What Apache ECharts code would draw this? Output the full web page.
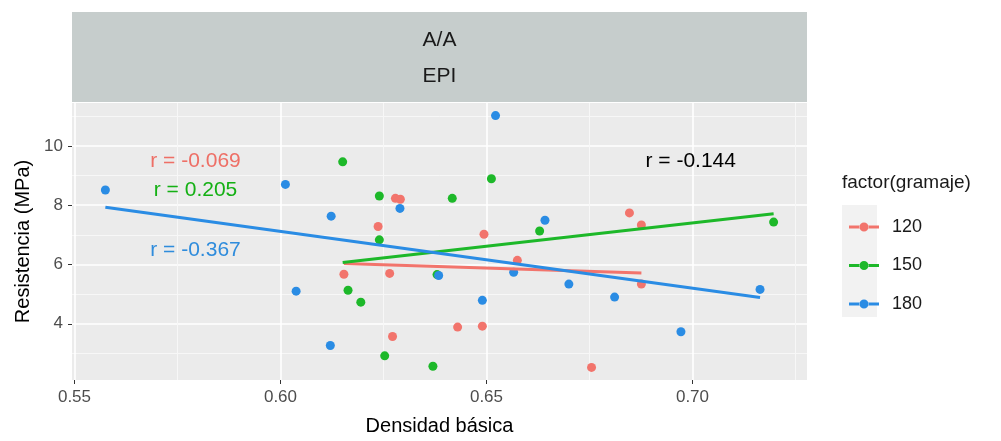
<!DOCTYPE html>
<html>
<head>
<meta charset="utf-8">
<script src="https://cdn.jsdelivr.net/npm/echarts@6/dist/echarts.min.js"></script>
<style>
  html, body { margin: 0; background: #fff; }
  #chart { width: 1001px; height: 441px; }
</style>
</head>
<body>
<div id="chart"></div>
<script>
// groups (gramaje) and their colours
var groups = ['120', '150', '180'];
var colors = ['#f2746c', '#1db829', '#2a8ce4'];

// points: densidad básica / resistencia
var x120 = [0.6279, 0.6291, 0.6237, 0.6494, 0.6847, 0.6876, 0.6154, 0.6265, 0.6430, 0.6490, 0.6272, 0.6575, 0.6876, 0.6755];
var y120 = [8.23, 8.20, 7.28, 7.02, 7.74, 7.33, 5.67, 5.70, 3.89, 3.92, 3.57, 6.14, 5.34, 2.53];
var x150 = [0.6151, 0.6240, 0.6417, 0.6512, 0.6240, 0.6629, 0.7197, 0.6164, 0.6195, 0.6253, 0.6370, 0.6380];
var y150 = [9.46, 8.31, 8.23, 8.89, 6.83, 7.13, 7.43, 5.13, 4.73, 2.92, 2.57, 5.66];
var x180 = [0.5575, 0.6012, 0.6522, 0.6290, 0.6123, 0.6642, 0.6038, 0.6384, 0.6490, 0.6121, 0.6566, 0.6700, 0.6811, 0.6972, 0.7164];
var y180 = [8.51, 8.70, 11.02, 7.89, 7.63, 7.49, 5.10, 5.63, 4.79, 3.27, 5.74, 5.34, 4.90, 3.73, 5.16];

// fitted lines (lm) end points
var fit120 = [[0.6154, 6.03], [0.6876, 5.71]];
var fit150 = [[0.6151, 6.07], [0.7197, 7.71]];
var fit180 = [[0.5575, 7.93], [0.7164, 4.89]];

// correlation labels
var rLabels = ['r = -0.069', 'r = 0.205', 'r = -0.367', 'r = -0.144'];
var rX = [0.5795, 0.5795, 0.5795, 0.6997];
var rY = [9.46, 8.49, 6.46, 9.46];
var rColors = ['#ee6f66', '#14b014', '#2f8cdc', '#000000'];

// axis ticks
var xTicks = [0.55, 0.60, 0.65, 0.70];
var xMinor = [0.575, 0.625, 0.675, 0.725];
var yTicks = [4, 6, 8, 10];
var yMinor = [3, 5, 7, 9, 11];

var xMin = 0.5494, xMax = 0.7278;
var yMin = 2.105, yMax = 11.445;

var FONT = '"Liberation Sans", Arial, sans-serif';

function zip(xs, ys) {
  return xs.map(function (x, i) { return [x, ys[i]]; });
}

var pts = [zip(x120, y120), zip(x150, y150), zip(x180, y180)];
var fits = [fit120, fit150, fit180];

var series = [];
groups.forEach(function (g, i) {
  series.push({
    name: g,
    type: 'scatter',
    data: pts[i],
    symbolSize: 9,
    itemStyle: { color: colors[i], opacity: 1 },
    z: 2
  });
});
groups.forEach(function (g, i) {
  series.push({
    name: g,
    type: 'line',
    data: fits[i],
    symbol: 'none',
    lineStyle: { color: colors[i], width: 3 },
    itemStyle: { color: colors[i] },
    z: 3
  });
});
series.push({
  name: 'rlab',
  type: 'scatter',
  silent: true,
  symbolSize: 1,
  itemStyle: { color: 'rgba(0,0,0,0)' },
  data: rLabels.map(function (t, i) {
    return {
      value: [rX[i], rY[i]],
      label: { color: rColors[i] }
    };
  }),
  label: {
    show: true,
    position: [0, 0],
    align: 'center',
    verticalAlign: 'middle',
    fontSize: 21,
    fontFamily: FONT,
    textBorderWidth: 0,
    opacity: 1,
    formatter: function (p) { return rLabels[p.dataIndex]; }
  },
  z: 4
});

// line + dot key, bars split so the dot stays filled
var legendIcon = 'path://M0,4H11V7H0Z M19,4H30V7H19Z M10.5,5.5a4.5,4.5 0 1,0 9,0a4.5,4.5 0 1,0 -9,0Z';

var myChart = echarts.init(document.getElementById('chart'));
myChart.setOption({
  animation: false,
  backgroundColor: '#ffffff',
  grid: {
    left: 72,
    top: 103,
    width: 735,
    height: 281,
    show: true,
    backgroundColor: '#ebebeb',
    borderWidth: 0
  },
  graphic: [
    { type: 'rect', left: 72, top: 12, shape: { width: 735, height: 90 }, style: { fill: '#c6cdcc' }, silent: true },
    { type: 'text', x: 439.5, y: 40, style: { text: 'A/A', font: '21px ' + FONT, fill: '#1a1a1a', align: 'center', verticalAlign: 'middle' } },
    { type: 'text', x: 439.5, y: 76, style: { text: 'EPI', font: '21px ' + FONT, fill: '#1a1a1a', align: 'center', verticalAlign: 'middle' } },
    { type: 'text', x: 842, y: 183, style: { text: 'factor(gramaje)', font: '19px ' + FONT, fill: '#1a1a1a', align: 'left', verticalAlign: 'middle' } },
    { type: 'rect', left: 842, top: 205, shape: { width: 35, height: 112 }, style: { fill: '#f2f2f2' }, silent: true, z: -1 }
  ],
  legend: {
    data: groups.map(function (g, i) {
      return { name: g, icon: legendIcon, itemStyle: { color: colors[i] } };
    }),
    orient: 'vertical',
    left: 844,
    top: 212,
    itemWidth: 30,
    itemHeight: 11,
    itemGap: 18.5,
    selectedMode: false,
    textStyle: {
      fontSize: 18,
      fontFamily: FONT,
      color: '#1a1a1a',
      lineHeight: 20,
      padding: [0, 0, 0, 8]
    }
  },
  xAxis: [
    {
      type: 'value',
      min: xMin,
      max: xMax,
      name: 'Densidad básica',
      nameLocation: 'middle',
      nameGap: 36,
      nameTextStyle: { fontSize: 20, fontFamily: FONT, color: '#000' },
      axisLine: { show: false },
      axisTick: { show: true, length: 4, customValues: xTicks, lineStyle: { color: '#333' } },
      axisLabel: {
        customValues: xTicks,
        margin: 9,
        fontSize: 17,
        fontFamily: FONT,
        color: '#4d4d4d',
        formatter: function (v) { return v.toFixed(2); }
      },
      splitLine: { show: true, lineStyle: { color: '#ffffff', width: 1.6 } }
    },
    {
      type: 'value',
      min: xMin,
      max: xMax,
      position: 'bottom',
      axisLine: { show: false },
      axisTick: { show: false, customValues: xMinor },
      axisLabel: { show: false, customValues: xMinor },
      splitLine: { show: true, lineStyle: { color: '#f7f7f7', width: 1 } }
    }
  ],
  yAxis: [
    {
      type: 'value',
      min: yMin,
      max: yMax,
      name: 'Resistencia (MPa)',
      nameLocation: 'middle',
      nameGap: 38,
      nameTextStyle: { fontSize: 20, fontFamily: FONT, color: '#000' },
      axisLine: { show: false },
      axisTick: { show: true, length: 4, customValues: yTicks, lineStyle: { color: '#333' } },
      axisLabel: {
        customValues: yTicks,
        margin: 9,
        fontSize: 17,
        fontFamily: FONT,
        color: '#4d4d4d'
      },
      splitLine: { show: true, lineStyle: { color: '#ffffff', width: 1.6 } }
    },
    {
      type: 'value',
      min: yMin,
      max: yMax,
      position: 'left',
      axisLine: { show: false },
      axisTick: { show: false, customValues: yMinor },
      axisLabel: { show: false, customValues: yMinor },
      splitLine: { show: true, lineStyle: { color: '#f7f7f7', width: 1 } }
    }
  ],
  series: series
});
</script>
</body>
</html>
